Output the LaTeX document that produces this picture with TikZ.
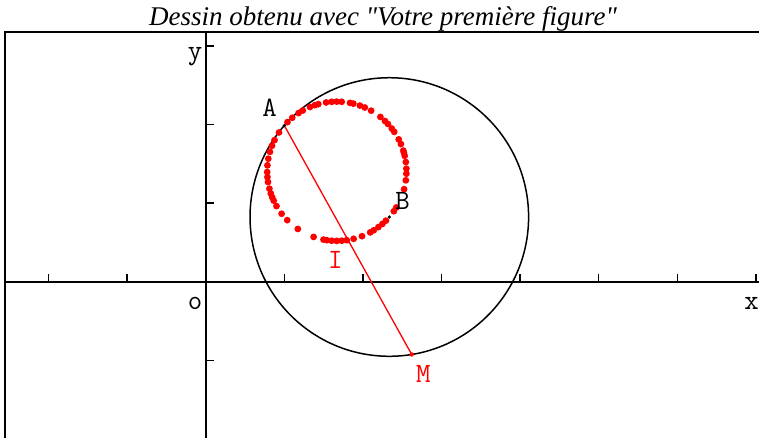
\documentclass[tikz,border=0pt]{standalone}
\usepackage{fontspec}
\setmainfont{Liberation Serif}
\usetikzlibrary{calc}
\begin{document}
\begin{tikzpicture}[x=1pt,y=1pt,
  lab/.style={font=\ttfamily\fontsize{28}{28}\selectfont, inner sep=0pt, anchor=base},
  axisline/.style={line width=1.8pt},
  tickline/.style={line width=1.4pt},
  framebox/.style={line width=2pt},
  bigcircle/.style={line width=1.5pt},
  seg/.style={red, line width=1.3pt},
  tracedot/.style={red},
]
\useasboundingbox (0,0) rectangle (759,438);
% title
\node[font=\itshape\fontsize{27}{29}\selectfont, anchor=base, inner sep=0pt] (title) at (383,412) {Dessin obtenu avec \textquotedbl Votre première figure\textquotedbl};
% frame
\draw[framebox] (5.3,-2) -- (5.3,405.7) -- (762,405.7);
\begin{scope}[shift={(205.7,156.3)}, x=78.6pt, y=78.6pt]
  \coordinate (O) at (0,0);
  \coordinate (A) at (1,1.987);
  \coordinate (B) at (2.336,0.823);
  \coordinate (M) at ($(B)+(-80.75:1.772)$);
  \coordinate (I) at ($(A)!0.5!(M)$);
  \coordinate (C) at ($(A)!0.5!(B)$);
  \coordinate (xl) at (-2.55,0);
  \coordinate (xr) at (7.1,0);
  \coordinate (yb) at (0,-2.05);
  \coordinate (yt) at (0,3.173);
  % axes
  \draw[axisline] (xl) -- (xr);
  \draw[axisline] (yb) -- (yt);
  \foreach \k in {-2,-1,1,2,3,4,5,6,7} \draw[tickline] (\k,0) -- ++(0,8pt);
  \foreach \k in {-1,1,2,3} \draw[tickline] (0,\k) -- ++(8pt,0);
  % big circle centred at B through A
  \draw[bigcircle] (B) circle (1.772);
  % trace of I
  \foreach \zx/\zy in {335/110,355/97,368/90,390/80,405/75,415/72,438/65,455/65,470/64,485/65,510/68,520/70,540/75,555/80,575/88,605/105,612/125,625/130,635/145,642/155,660/175,665/190,672/210,678/215,680/225,678/245,678/265,678/280,678/300,678/328,655/385,645/395,612/415,605/428,595/440,580/448,570/455,545/465,520/472,500/478,485/480,470/480,455/480,440/480,430/480,400/472,352/448,323/418,305/400,288/378,283/360,278/350,270/340,268/325,265/305,265/290,262/275,263/255,265/235,272/215,278/197,285/180,295/155,322/125}{
    \pgfmathsetmacro\ang{atan2(272.7-\zy,\zx-470.4)}
    \fill[tracedot] (C) ++(\ang:0.886) circle (3.4pt);
  }
  % segment AM
  \draw[seg] (A) -- (M);
  \fill[red] (M) circle (2.2pt);
  \fill (A) circle (1.8pt);
  \fill (B) circle (1.8pt);
\end{scope}
% labels
\node[lab] (ylab) at (195,378) {y};
\node[lab] (xlab) at (751.5,128.7) {x};
\node[lab] (olab) at (195,128) {o};
\node[lab] (alab) at (269.5,321.7) {A};
\node[lab] (blab) at (402.5,228) {B};
\node[lab,red] (ilab) at (335.3,169) {I};
\node[lab,red] (mlab) at (423.3,55) {M};
\end{tikzpicture}
\end{document}
